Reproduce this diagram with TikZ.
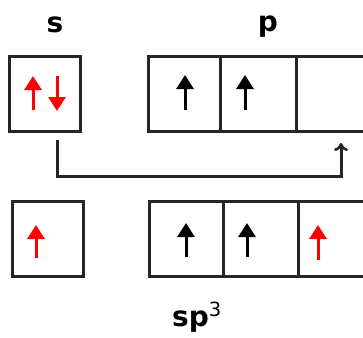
\documentclass[tikz,border=0pt]{standalone}
\usepackage{fontspec}
\setmainfont{DejaVu Sans}
\usetikzlibrary{arrows.meta}
\begin{document}
\begin{tikzpicture}[x=1pt,y=-1pt,
  orb/.style={draw=black!85, line width=3pt, minimum height=75pt, inner sep=0pt},
  lbl/.style={font=\fontsize{28}{32}\selectfont\bfseries, inner sep=0pt, anchor=base},
  spin/.style={line width=3pt, -{Triangle[length=14pt,width=17pt]}},
  link/.style={draw=black!85, line width=3pt, -{To[length=8pt,width=14pt,line width=2.6pt]}}]
\useasboundingbox (0,0) rectangle (363,337);
\clip (0,0) rectangle (363,337);

% labels
\node[lbl] (ls) at (55,33) {s};
\node[lbl] (lp) at (268,32) {p};
\node[lbl, anchor=base west] (lsp) at (172,326) {sp\textsuperscript{\mdseries 3}};

% ground-state orbitals
\node[orb, minimum width=71pt] (s1) at (44.5,93.5) {};
\node[orb, minimum width=72pt] (p1a) at (184,93.5) {};
\node[orb, minimum width=76pt] (p1b) at (258,93.5) {};
\node[orb, minimum width=80pt] (p1c) at (336,93.5) {};

% hybrid orbitals
\node[orb, minimum width=71pt] (s2) at (47.5,239) {};
\node[orb, minimum width=74pt] (p2a) at (186,239) {};
\node[orb, minimum width=75pt] (p2b) at (260.5,239) {};
\node[orb, minimum width=80pt] (p2c) at (338,239) {};

% electron spins
\draw[spin, red] (33,110) -- (33,76);
\draw[spin, red] (57,76) -- (57,111);
\draw[spin] (185,110) -- (185,75);
\draw[spin] (245,110) -- (245,75);

\draw[spin, red] (36,258) -- (36,225);
\draw[spin] (186,257) -- (186,223);
\draw[spin] (247,257) -- (247,223);
\draw[spin, red] (318,260) -- (318,225);

% promotion of an s electron
\coordinate (from) at (57,140);
\coordinate (to) at (341,143);
\draw[link] (from) -- ++(0,36) -| (to);
\end{tikzpicture}
\end{document}
